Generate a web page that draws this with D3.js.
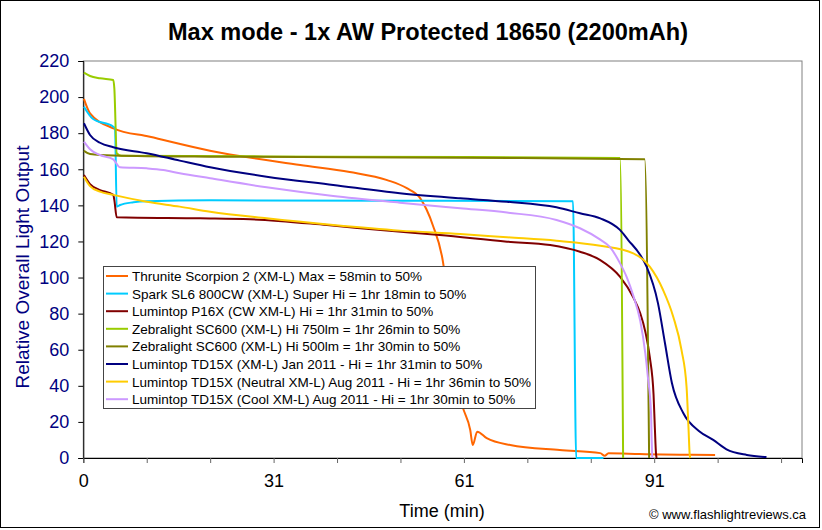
<!DOCTYPE html>
<html><head><meta charset="utf-8">
<script src="https://cdn.jsdelivr.net/npm/d3@7"></script>
<style>
html,body{margin:0;padding:0;background:#fff;}
svg{display:block;font-family:Arial,"Liberation Sans",sans-serif;}
</style></head>
<body><svg id="c" width="822" height="530"></svg>
<script>
// ---- data (x in chart time units, tick every 10) ----
const seriesNames = [
  "Thrunite Scorpion 2 (XM-L) Max = 58min to 50%",
  "Spark SL6 800CW (XM-L) Super Hi = 1hr 18min to 50%",
  "Lumintop P16X (CW XM-L) Hi = 1hr 31min to 50%",
  "Zebralight SC600 (XM-L) Hi 750lm = 1hr 26min to 50%",
  "Zebralight SC600 (XM-L) Hi 500lm = 1hr 30min to 50%",
  "Lumintop TD15X (XM-L) Jan 2011 - Hi = 1hr 31min to 50%",
  "Lumintop TD15X (Neutral XM-L) Aug 2011 - Hi = 1hr 36min to 50%",
  "Lumintop TD15X (Cool XM-L) Aug 2011 - Hi = 1hr 30min to 50%"
];
const seriesColors = ["#FF6600","#00CCFF","#800000","#99CC00","#808000","#000080","#FFCC00","#CC99FF"];

const thruniteData = [[0.1,199],[1.06,191],[4.73,182.7],[10.5,178],[19.97,170.3],[34.2,162.4],[42.0,158.5],[47.9,154],[51.0,149.5],[53.1,144],[55.1,129],[56.7,108.7],[57.5,87.6],[58.3,65.4],[58.9,46],[59.7,30],[61.0,15.5],[61.4,7.2],[62.1,14.6],[63.6,11],[67.3,7.2],[75.1,4.4],[81.5,2.7],[82.2,1.2],[82.8,2.6],[87.7,2.2],[94.1,1.8],[99.6,1.7]];
const sparkData = [[0.1,194.7],[1.5,188],[4.73,183.6],[5.0,182.7],[5.26,139.3],[5.8,140.2],[7.9,141.7],[10,142.3],[20,142.8],[50,142.6],[77.2,142.3],[77.7,0],[82,0]];
const p16xData = [[0.1,156.8],[1.06,151.8],[2.63,148.5],[4.73,145.8],[4.89,143],[5.27,133.4],[18.4,132.8],[26.3,132.3],[38.4,129.1],[47.8,126],[56.2,123.6],[66.8,119.9],[73.6,118],[78.3,114.3],[81.5,109.7],[84.6,100.5],[86.7,89],[87.8,80.2],[88.6,70],[89.3,56],[89.9,35],[90.1,17],[90.3,1.7],[90.4,0]];
const sc600HiData = [[0.1,213.5],[1.06,211.7],[2.63,210.4],[4.73,209.5],[4.89,205],[5.27,168.9],[6,167.5],[40,167],[84.6,166.3],[85.1,0]];
const sc600LoData = [[0.1,170.3],[1.06,168.5],[4.73,167.7],[20,167],[59.4,166.4],[88.5,165.5],[89.2,0]];
const td15xJanData = [[0.1,185.5],[1.06,179],[2.63,174.7],[4.73,172.2],[10,168.9],[15.2,164.8],[20,161.1],[28.9,155.9],[39.4,151.3],[49.9,146.7],[59.4,143.9],[66.8,142],[74.6,138.9],[78.3,135.6],[81.5,132.8],[84.6,126.4],[85.9,120.8],[87.8,112.5],[88.8,106],[90.6,85.7],[91.7,63.6],[92.8,41.4],[94.6,24.8],[97.2,14.6],[99.3,10],[101.4,4.8],[104.6,1.7],[107.7,0.5]];
const td15xNeutralData = [[0.1,155.9],[1.06,150.7],[2.63,147.6],[4.73,145.8],[10,142],[15.2,139.3],[20,136.5],[28.9,132.8],[39.4,129.1],[49.9,126],[59.4,124.1],[66.8,122.3],[74.6,120.4],[81.5,117.6],[86.7,113.4],[89.3,106],[91.4,93.1],[93.0,78.3],[94.3,59.9],[95.1,39.5],[95.4,17.3],[95.6,1.7],[95.7,0]];
const td15xCoolData = [[0.1,175.3],[1.06,171.1],[2.63,167.9],[4.73,165.5],[5.79,161.1],[10,160.5],[12.6,159.6],[15.2,157.8],[20,155],[28.9,150],[39.4,145.2],[49.9,141.5],[59.4,138.4],[66.8,136],[74.6,131.9],[78.3,127.3],[81.5,121],[83.0,117],[84.6,108],[85.7,100],[86.7,90],[87.8,76],[88.6,58],[89.0,45],[89.5,25],[89.6,10],[89.7,0]];
const seriesData = [thruniteData, sparkData, p16xData, sc600HiData, sc600LoData, td15xJanData, td15xNeutralData, td15xCoolData];

const yTicks = [0,20,40,60,80,100,120,140,160,180,200,220];
const xTicks = [0,10,20,30,40,50,60,70,80,90,100,110];
const xTickLabels = ["0","","","31","","","61","","","91","",""];

const titleText = "Max mode - 1x AW Protected 18650 (2200mAh)";
const yTitle = "Relative Overall Light Output";
const xTitle = "Time (min)";
const credit = "\u00A9 www.flashlightreviews.ca";

// ---- drawing ----
const svg = d3.select("#c");
const W = 822, H = 530;
const L = 83.3, R = 802, T = 61, B = 458;

svg.append("rect").attr("x",0.5).attr("y",0.5).attr("width",W-3).attr("height",H-3)
  .attr("fill","#fff").attr("stroke","#000").attr("stroke-width",1);

const x = d3.scaleLinear().domain([0,113.3]).range([L,R]);
const y = d3.scaleLinear().domain([0,220]).range([B,T]);

svg.append("rect").attr("x",L).attr("y",T).attr("width",R-L).attr("height",B-T)
  .attr("fill","none").attr("stroke","#808080").attr("stroke-width",1);

// y axis
const gy = svg.append("g").attr("transform",`translate(${L},0)`)
  .call(d3.axisLeft(y).tickValues(yTicks).tickSize(5).tickPadding(9).tickFormat(d3.format("d")));
gy.select(".domain").attr("stroke","#000");
gy.selectAll(".tick line").attr("stroke","#000");
gy.selectAll("text").attr("font-size",18).attr("fill","#000080").attr("font-family","Arial,'Liberation Sans',sans-serif");

// x axis
const gx = svg.append("g").attr("transform",`translate(0,${B})`)
  .call(d3.axisBottom(x).tickValues(xTicks).tickSize(5).tickPadding(11).tickFormat((d,i)=>xTickLabels[i]));
gx.select(".domain").attr("stroke","#000");
gx.selectAll(".tick line").attr("stroke","#666");
gx.selectAll("text").attr("font-size",18).attr("fill","#000").attr("font-family","Arial,'Liberation Sans',sans-serif");

// lines
const line = d3.line().x(d=>x(d[0])).y(d=>y(d[1])).curve(d3.curveMonotoneX);
seriesData.forEach((data,i)=>{
  svg.append("path").datum(data).attr("d",line)
    .attr("fill","none").attr("stroke",seriesColors[i]).attr("stroke-width",2)
    .attr("stroke-linejoin","round");
});

// legend
const lg = svg.append("g");
lg.append("rect").attr("x",103.5).attr("y",266.5).attr("width",432).attr("height",142)
  .attr("fill","#fff").attr("stroke","#444").attr("stroke-width",1);
seriesNames.forEach((n,i)=>{
  const cy = 276 + i*17.6;
  lg.append("line").attr("x1",106).attr("x2",128).attr("y1",cy).attr("y2",cy)
    .attr("stroke",seriesColors[i]).attr("stroke-width",2);
  lg.append("text").attr("x",132).attr("y",cy+5).attr("font-size",13.5).attr("fill","#000").text(n);
});

// titles
svg.append("text").attr("x",428).attr("y",40).attr("text-anchor","middle")
  .attr("font-size",23).attr("font-weight","bold").attr("fill","#000")
  .attr("textLength",520).attr("lengthAdjust","spacingAndGlyphs").text(titleText);
svg.append("text").attr("transform","translate(29,267) rotate(-90)").attr("text-anchor","middle")
  .attr("font-size",19).attr("fill","#000080").text(yTitle);
svg.append("text").attr("x",442).attr("y",517).attr("text-anchor","middle")
  .attr("font-size",18).attr("fill","#000").text(xTitle);
svg.append("text").attr("x",806).attr("y",519).attr("text-anchor","end")
  .attr("font-size",13).attr("fill","#000").text(credit);
</script></body></html>
